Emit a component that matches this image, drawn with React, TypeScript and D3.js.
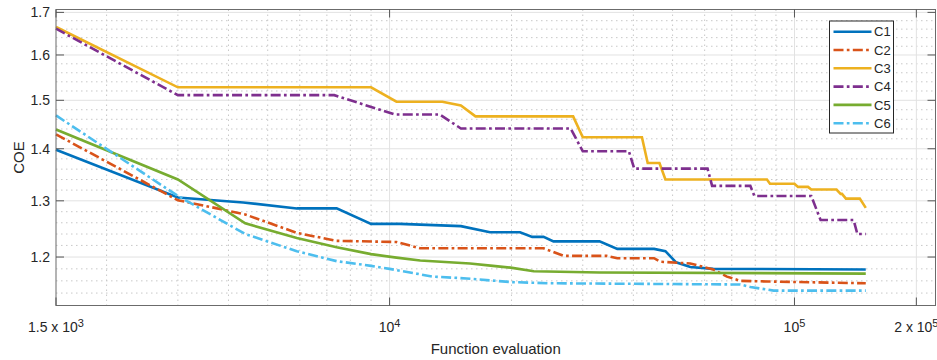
import React from 'react';
import * as d3 from 'd3';

// function evaluations / COE
const C1_X = [1500, 3000, 4350, 5900, 7400, 9000, 10600, 15000, 17700, 21000, 22500, 24000, 25400, 33000, 36500, 45000, 48000, 51000, 55300, 63000, 150000];
const C1_Y = [1.398, 1.306, 1.297, 1.286, 1.286, 1.258, 1.258, 1.254, 1.243, 1.243, 1.235, 1.235, 1.227, 1.227, 1.214, 1.214, 1.210, 1.191, 1.183, 1.180, 1.179];

const C2_X = [1500, 3000, 3700, 4400, 5900, 7400, 10400, 11900, 24000, 26900, 34400, 36500, 45000, 46600, 55300, 63000, 68100, 73500, 85500, 150000];
const C2_Y = [1.429, 1.301, 1.287, 1.275, 1.242, 1.228, 1.226, 1.215, 1.215, 1.202, 1.202, 1.198, 1.198, 1.192, 1.189, 1.179, 1.167, 1.160, 1.159, 1.156];

const C3_X = [1500, 3000, 9000, 10400, 13500, 15000, 16300, 28400, 30000, 42000, 43400, 46400, 48000, 85500, 87000, 100000, 102000, 108000, 110000, 127000, 130000, 131000, 134000, 145000, 150000];
const C3_Y = [1.665, 1.528, 1.528, 1.497, 1.497, 1.489, 1.466, 1.466, 1.423, 1.423, 1.372, 1.372, 1.340, 1.340, 1.332, 1.332, 1.326, 1.326, 1.321, 1.321, 1.313, 1.313, 1.304, 1.304, 1.287];

const C4_X = [1500, 3000, 7300, 10300, 13300, 15000, 28000, 30000, 39000, 40200, 61000, 62600, 77800, 79600, 110000, 116000, 140000, 143000, 150000];
const C4_Y = [1.661, 1.511, 1.511, 1.470, 1.470, 1.441, 1.441, 1.395, 1.395, 1.361, 1.361, 1.328, 1.328, 1.309, 1.309, 1.265, 1.265, 1.240, 1.240];

const C5_X = [1500, 3000, 4400, 5900, 7400, 9000, 10400, 11900, 15800, 18000, 19900, 22700, 33000, 150000];
const C5_Y = [1.439, 1.340, 1.259, 1.233, 1.217, 1.205, 1.199, 1.194, 1.189, 1.185, 1.182, 1.176, 1.174, 1.172];

const C6_X = [1500, 3000, 4400, 5900, 7400, 9000, 10000, 12800, 15500, 19900, 25000, 73500, 77800, 88800, 150000];
const C6_Y = [1.468, 1.309, 1.240, 1.210, 1.193, 1.185, 1.180, 1.167, 1.164, 1.158, 1.156, 1.154, 1.150, 1.144, 1.144];

const X_TICKS = [1500, 1e4, 1e5, 2e5];
const X_TICK_LABELS = [['1.5 x 10', '3'], ['10', '4'], ['10', '5'], ['2 x 10', '5']];
const X_MINOR = [2000, 3000, 4000, 5000, 6000, 7000, 8000, 9000, 20000, 30000, 40000, 50000, 60000, 70000, 80000, 90000];
const Y_TICKS = [1.2, 1.3, 1.4, 1.5, 1.6, 1.7];
const Y_MINOR = [1.14, 1.16, 1.18, 1.22, 1.24, 1.26, 1.28, 1.32, 1.34, 1.36, 1.38, 1.42, 1.44, 1.46, 1.48, 1.52, 1.54, 1.56, 1.58, 1.62, 1.64, 1.66, 1.68];

const dashDot = '10,3.3,2.7,3.3';
const series = [
  { name: 'C1', x: C1_X, y: C1_Y, color: '#0072BD', dash: null },
  { name: 'C2', x: C2_X, y: C2_Y, color: '#D95319', dash: dashDot },
  { name: 'C3', x: C3_X, y: C3_Y, color: '#EDB120', dash: null },
  { name: 'C4', x: C4_X, y: C4_Y, color: '#7E2F8E', dash: dashDot },
  { name: 'C5', x: C5_X, y: C5_Y, color: '#77AC30', dash: null },
  { name: 'C6', x: C6_X, y: C6_Y, color: '#4DBEEE', dash: dashDot },
];

const W = 937, H = 360;
const left = 56, right = 935.5, top = 9.5, bottom = 305.5;
const font = 'Liberation Sans, Arial, Helvetica, sans-serif';
const textColor = '#262626';

export default function App() {
  const x = d3.scaleLog().domain([1500, 2.23e5]).range([left, right]);
  const y = d3.scaleLog().domain([1.12, 1.707]).range([bottom, top]);
  const line = d3.line<[number, number]>().x(d => x(d[0])).y(d => y(d[1]));
  const tick = 8;

  return (
    <svg width={W} height={H} style={{ position: 'absolute', left: 0, top: 0 }} fontFamily={font}>
      <rect x={0} y={0} width={W} height={H} fill="#fff" />
      {/* minor grid */}
      {X_MINOR.map(v => (
        <line key={'xm' + v} x1={x(v)} x2={x(v)} y1={top} y2={bottom} stroke="#c8c8c8" strokeWidth={1} strokeDasharray="1.5,3.5" />
      ))}
      {Y_MINOR.map(v => (
        <line key={'ym' + v} x1={left} x2={right} y1={y(v)} y2={y(v)} stroke="#c8c8c8" strokeWidth={1} strokeDasharray="1.5,3.5" />
      ))}
      {/* major grid */}
      {X_TICKS.slice(1).map(v => (
        <line key={'xg' + v} x1={x(v)} x2={x(v)} y1={top} y2={bottom} stroke="#e2e2e2" strokeWidth={1} />
      ))}
      {Y_TICKS.map(v => (
        <line key={'yg' + v} x1={left} x2={right} y1={y(v)} y2={y(v)} stroke="#e2e2e2" strokeWidth={1} />
      ))}

      {/* lines */}
      {series.map(s => (
        <path key={s.name} d={line(s.x.map((v, i) => [v, s.y[i]] as [number, number])) || ''}
          fill="none" stroke={s.color} strokeWidth={2.6} strokeDasharray={s.dash || undefined} />
      ))}

      {/* box */}
      <rect x={left} y={top} width={right - left} height={bottom - top} fill="none" stroke="#6b6b6b" strokeWidth={1} />
      {X_TICKS.map(v => (
        <g key={'xt' + v}>
          <line x1={x(v)} x2={x(v)} y1={bottom} y2={bottom - tick} stroke="#555" />
          <line x1={x(v)} x2={x(v)} y1={top} y2={top + tick} stroke="#555" />
        </g>
      ))}
      {Y_TICKS.map(v => (
        <g key={'yt' + v}>
          <line x1={left} x2={left + tick} y1={y(v)} y2={y(v)} stroke="#555" />
          <line x1={right} x2={right - tick} y1={y(v)} y2={y(v)} stroke="#555" />
          <text x={50} y={y(v)} dy="0.36em" textAnchor="end" fontSize={14} fill={textColor}>{v.toFixed(1)}</text>
        </g>
      ))}
      {X_TICKS.map((v, i) => (
        <text key={'xl' + v} x={x(v)} y={332} textAnchor="middle" fontSize={14} fill={textColor}>
          <tspan>{X_TICK_LABELS[i][0]}</tspan>
          <tspan dy={-5} fontSize={11}>{X_TICK_LABELS[i][1]}</tspan>
        </text>
      ))}

      <text x={(left + right) / 2} y={354} textAnchor="middle" fontSize={15} fill={textColor}>Function evaluation</text>
      <text transform={`translate(24,${(top + bottom) / 2}) rotate(-90)`} textAnchor="middle" fontSize={15} fill={textColor}>COE</text>

      {/* legend */}
      <g>
        <rect x={829.5} y={21} width={64} height={112} fill="#fff" stroke="#262626" strokeWidth={1} />
        {series.map((s, i) => {
          const ly = 31.7 + i * 18.3;
          return (
            <g key={'lg' + s.name}>
              <line x1={833.5} x2={871.5} y1={ly} y2={ly} stroke={s.color} strokeWidth={2.6} strokeDasharray={s.dash || undefined} />
              <text x={874} y={ly} dy="0.36em" fontSize={13} fill={textColor}>{s.name}</text>
            </g>
          );
        })}
      </g>
    </svg>
  );
}
